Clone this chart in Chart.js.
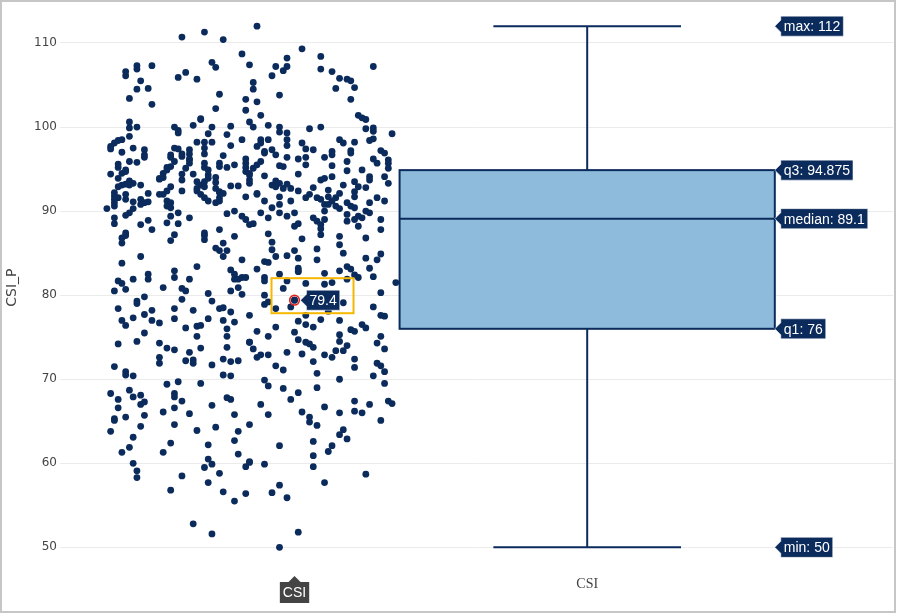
<!DOCTYPE html>
<html>
<head>
<meta charset="utf-8">
<script src="https://cdn.jsdelivr.net/npm/chart.js@4.4.0/dist/chart.umd.min.js"></script>
<style>
  body { margin: 0; background: #fff; }
  canvas { display: block; }
</style>
</head>
<body>
<canvas id="box-chart-csi" width="897" height="613"></canvas>
<script>
// datos
const categoria = 'CSI';
const tituloEjeY = 'CSI_P';
const yTicks = [50, 60, 70, 80, 90, 100, 110];
const boxLabels = ['min', 'q1', 'median', 'q3', 'max'];
const boxValues = [50, 76, 89.1, 94.875, 112];
const hoverIndex = 0; // punto resaltado (79.4)

// posicion x = jitter (centro de la caja en 0, ancho de caja 1)
const puntosX = [
  -0.78,
  -1.08,-1.02,-0.97,-0.92,-1.00,-0.99,-0.90,-1.20,-1.20,-1.16,-1.23,-1.23,-1.07,-1.09,-1.04,-1.19,-1.20,-1.17,-0.98,-1.22,
  -1.16,-0.91,-0.99,-0.91,-1.03,-1.03,-1.22,-1.22,-1.20,-1.10,-1.09,-1.09,-1.05,-1.00,-0.95,-0.90,-1.01,-0.96,-1.22,-1.04,
  -1.02,-1.00,-0.92,-0.95,-1.26,-1.25,-1.24,-1.27,-1.27,-1.21,-1.18,-1.10,-1.09,-1.06,-1.02,
  -0.88,-0.76,-0.71,-0.80,-0.83,-0.81,-0.80,-0.84,-0.71,-0.68,-0.66,-0.64,-0.63,-0.57,-0.67,-0.62,-0.89,-0.89,-0.82,-0.63,
  -0.88,-0.87,-0.61,-0.60,-0.59,-0.89,-0.85,-0.82,-0.82,-0.80,-0.80,-0.80,-0.74,-0.71,-0.59,-0.57,-0.57,-0.52,-0.87,-0.87,
  -0.88,-0.85,-0.76,-0.66,-0.65,-0.62,-0.58,-0.57,-0.75,-0.73,-0.68,-0.63,-0.55,-0.84,-0.86,
  -1.24,-1.18,-1.18,-1.11,-1.11,-1.08,-1.08,-1.06,-1.06,-1.02,-0.97,-0.91,-1.22,-1.20,-1.25,-1.25,-1.06,-1.06,-1.10,-1.11,
  -1.12,-1.02,-1.02,-1.01,-0.98,-0.98,-0.96,-0.94,-0.91,-0.91,-1.07,-1.12,-1.13,-1.23,-1.24,-1.23,-1.27,-1.08,-1.08,-1.05,
  -1.01,-1.01,-0.99,-0.91,-0.90,-1.14,-1.13,-1.14,-1.25,-1.22,-1.21,-1.22,-1.23,-1.24,-1.25,-1.04,-1.03,-1.04,-1.04,-1.02,
  -1.02,-0.99,-0.99,-0.98,-0.95,-0.93,-0.90,-1.19,-1.11,-1.12,-1.13,-1.08,-1.14,-1.17,-1.26,-1.26,-1.25,-1.26,-1.26,-1.23,
  -1.23,-1.21,-1.19,-1.18,-1.17,-1.19,-1.03,-1.02,-1.01,-0.99,-0.98,-0.97,-0.98,-0.98,-0.91,-1.12,-1.11,-1.12,-1.11,-1.28,
  -1.26,-1.22,-1.23,-1.21,-1.11,-1.09,-1.06,-0.96,-0.94,-0.92,-0.91,-1.26,-1.26,-1.17,-1.19,-1.16,-1.12,-1.09,-0.90,-1.23,
  -1.23,-1.24,-1.24,-1.10,-1.11,-1.02,-1.02,-1.02,-0.98,-0.94,-0.97,-0.99,-0.98,-0.96,-0.97,-1.19,-0.92,-1.04,-1.24,-1.10,
  -1.10,-1.17,-1.17,-1.21,-1.25,-1.24,-1.06,-0.95,-0.94,-0.94,-0.93,-0.92,-0.91,
  -0.86,-0.83,-0.80,-0.77,-0.75,-0.75,-0.70,-0.68,-0.63,-0.64,-0.57,-0.56,-0.54,-0.53,-0.53,-0.53,-0.87,-0.88,-0.89,-0.90,
  -0.82,-0.81,-0.77,-0.86,-0.68,-0.68,-0.70,-0.71,-0.64,-0.60,-0.58,-0.58,-0.54,-0.53,-0.83,-0.82,-0.80,-0.81,-0.79,-0.84,
  -0.83,-0.90,-0.73,-0.74,-0.75,-0.72,-0.71,-0.69,-0.69,-0.67,-0.66,-0.65,-0.62,-0.61,-0.62,-0.62,-0.59,-0.56,-0.58,-0.88,
  -0.88,-0.86,-0.82,-0.82,-0.79,-0.77,-0.54,-0.68,-0.67,-0.66,-0.64,-0.63,-0.62,-0.59,-0.58,-0.70,-0.70,-0.69,-0.84,-0.82,
  -0.78,-0.80,-0.87,-0.85,-0.73,-0.72,-0.71,-0.70,-0.64,-0.64,-0.62,-0.61,-0.60,-0.89,-0.78,-0.77,-0.71,-0.71,-0.61,-0.55,
  -0.55,-0.85,-0.76,-0.66,-0.66,-0.59,-0.84,-0.84,-0.78,-0.80,-0.77,-0.72,-0.72,-0.65,-0.55,-0.56,-0.59,-0.86,-0.85,-0.83,
  -0.77,-0.77,-0.77,-0.88,-0.82,-0.70,-0.66,-0.64,-0.63,-0.62,-0.58,-0.57,-0.61,-0.86,-0.86,-0.80,-0.75,-0.70,-0.68,-0.64,
  -0.51,
  -1.26,-1.23,-1.13,-1.08,-1.07,-1.01,-0.95,-0.93,-0.92,-1.20,-1.20,-1.18,-1.08,-1.00,-1.25,-1.16,-1.18,-1.21,-1.24,-1.23,
  -1.10,-1.10,-1.05,-0.98,-0.97,-0.95,-1.16,-1.14,-1.01,-1.04,-1.03,-1.07,-0.97,-0.94,-0.96,-0.90,-1.18,-1.04,-0.96,-1.25,
  -1.20,-1.14,-1.12,-1.10,-1.03,-0.96,-0.90,-1.06,-1.14,-1.14,-1.07,-1.05,-1.05,-1.00,-0.97,-0.95,-0.93,-1.26,-1.23,-1.23,
  -1.21,-0.97,-0.95,-1.09,-1.12,-1.03,-1.27,-1.25,-1.22,-1.21,-1.19,-1.10,-1.10,-1.08,-1.18,-1.19,-1.25,-1.23,-1.26,-1.18,
  -1.13,-1.10,-1.06,-1.00,-0.96,-0.95,-0.94,
  -0.81,-0.86,-0.86,-0.85,-0.83,-0.79,-0.65,-0.55,-0.57,-0.55,-0.54,-0.71,-0.66,-0.77,-0.75,-0.73,-0.75,-0.69,-0.88,-0.83,
  -0.85,-0.78,-0.77,-0.75,-0.74,-0.73,-0.66,-0.66,-0.64,-0.65,-0.67,-0.68,-0.70,-0.63,-0.62,-0.60,-0.59,-0.55,-0.56,-0.54,
  -0.90,-0.89,-0.88,-0.87,-0.85,-0.80,-0.76,-0.73,-0.83,-0.81,-0.62,-0.62,-0.56,-0.55,-0.54,-0.57,-0.54,-0.72,-0.66,-0.86,
  -0.85,-0.81,-0.77,-0.79,-0.72,-0.62,-0.58,-0.53,-0.52,-0.87,-0.85,-0.76,-0.74,-0.70,-0.66,-0.62,-0.60,
  -1.26,-1.27,-1.19,-1.21,-1.22,-1.24,-1.21,-1.20,-1.20,-1.10,-1.11,-1.13,-1.04,-1.08,-1.11,-0.99,-0.93,-0.94,-0.93,-0.90,
  -1.01,-1.01,-1.00,-1.02,-0.98,-1.01,-0.97,-0.94,-0.91,-0.90,-0.91,-1.05,-1.00,
  -0.74,-0.72,-0.66,-0.65,-0.64,-0.68,-0.69,-0.55,-0.82,-0.73,-0.73,-0.73,-0.90,-0.86,-0.70,-0.59,-0.82,-0.84,-0.80,-0.77,
  -0.82
];
const puntosY = [
  79.4,
  110.7,111.3,110.4,108.7,107.7,107.1,107.4,107.3,106.9,107.3,106.6,106.1,106.5,105.9,105.7,105.5,104.5,104.6,103.9,103.4,
  102.7,103.3,102.2,102.0,101.0,100.9,100.6,99.9,100.0,100.0,99.6,99.3,100.2,100.0,100.1,100.6,99.2,99.1,98.9,98.2,
  98.2,98.2,98.5,97.8,98.1,98.4,98.5,97.7,97.4,97.5,97.3,97.5,97.4,97.3,97.5,
  112.0,109.3,108.4,108.2,107.2,106.7,107.2,106.1,106.9,106.6,105.8,105.7,105.5,107.2,104.6,104.7,105.3,104.5,103.8,103.3,
  103.0,101.4,101.4,101.1,100.9,100.0,100.2,100.0,99.4,99.3,98.5,97.8,99.8,100.0,99.8,99.9,99.5,99.2,98.5,98.1,
  97.7,98.5,98.1,98.5,98.1,98.2,98.4,98.6,97.4,97.3,97.1,97.2,97.2,97.3,97.1,
  97.0,96.7,96.4,96.4,96.7,96.8,96.5,96.8,96.1,96.8,96.6,96.2,95.9,95.8,95.6,95.2,96.2,95.7,95.9,95.3,
  95.2,95.7,95.2,94.9,95.7,95.3,95.2,95.5,95.7,95.2,95.1,94.9,94.5,94.9,94.5,94.7,94.4,94.4,93.7,94.4,
  94.3,93.9,94.0,94.7,94.3,93.9,94.0,93.8,93.9,93.6,93.3,93.1,93.2,93.1,92.9,93.5,93.1,92.7,92.4,93.5,
  92.9,93.4,92.7,92.3,93.0,93.0,93.7,93.1,92.9,92.4,92.0,92.4,92.0,92.1,92.2,91.8,91.6,91.4,91.0,92.0,
  91.4,91.1,91.4,91.0,91.1,90.8,92.0,91.6,91.2,91.0,92.2,92.1,91.6,91.2,91.7,91.2,91.0,90.6,90.4,90.3,
  90.6,89.8,89.5,90.3,89.4,89.8,89.2,89.7,90.0,89.4,89.0,89.2,88.5,88.9,88.4,87.8,88.6,88.5,88.4,87.4,
  87.1,86.8,86.2,87.2,86.5,87.4,87.1,86.6,87.8,87.0,86.2,85.6,85.3,85.3,84.6,84.6,84.2,83.4,83.8,82.9,
  82.1,82.5,81.9,81.9,81.7,81.4,81.9,83.0,82.5,81.9,81.9,82.1,82.1,
  96.9,96.7,96.4,96.2,96.4,95.5,96.4,96.7,96.9,95.9,96.2,95.7,96.9,96.1,95.7,95.1,95.9,95.5,95.1,94.5,
  95.4,95.3,94.4,94.2,95.4,94.1,93.9,93.7,94.8,94.9,94.1,93.7,94.1,93.3,93.6,93.3,93.2,92.7,92.7,93.1,
  92.9,93.3,92.8,92.0,91.6,91.6,91.4,92.5,91.7,91.6,92.1,93.1,93.5,92.9,92.3,91.7,92.8,91.6,91.0,92.0,
  92.1,91.2,91.7,90.8,91.2,92.4,91.2,91.2,90.6,90.3,91.0,90.6,90.4,90.0,89.8,90.8,90.0,90.8,90.4,89.8,
  89.8,89.4,89.8,89.2,89.2,88.8,88.4,89.0,89.6,88.8,89.0,89.4,89.2,88.5,88.2,88.5,87.2,87.9,88.2,89.0,
  87.8,87.3,86.7,87.0,86.0,86.8,86.3,85.4,85.3,84.7,84.4,85.5,84.2,85.0,84.9,84.2,84.4,84.0,83.9,84.6,
  83.2,82.9,82.8,83.1,82.5,82.6,82.9,83.4,83.1,82.4,83.2,82.2,82.1,82.1,81.7,81.7,81.4,81.3,81.5,81.9,
  81.5,
  80.5,80.7,80.9,80.8,80.5,80.2,80.5,80.9,80.1,79.3,79.0,79.8,79.5,79.3,78.4,78.2,77.7,77.3,77.0,76.4,
  78.4,77.2,78.2,78.4,78.5,78.0,77.0,76.7,77.2,76.3,76.4,76.1,77.0,76.8,76.0,77.6,75.5,75.1,75.1,74.2,
  74.5,74.3,73.7,73.5,73.7,73.8,74.4,73.2,72.6,71.9,72.2,72.3,71.9,71.7,72.4,72.1,72.2,71.5,70.9,70.5,
  70.4,70.5,70.4,69.7,69.4,69.5,68.3,67.6,68.7,67.9,68.1,68.3,67.9,67.4,67.3,67.0,66.6,65.5,65.3,65.7,
  66.1,66.6,65.9,66.9,67.8,67.6,65.8,
  80.8,80.0,78.9,79.2,78.4,78.6,79.1,80.3,78.6,77.6,77.5,77.1,77.0,76.9,76.5,76.2,77.6,78.1,75.7,76.2,
  75.1,75.6,74.7,74.4,74.2,73.8,75.3,74.5,74.0,73.4,73.4,72.6,72.9,75.9,75.7,76.5,76.1,75.1,74.3,73.6,
  74.4,73.6,72.6,72.9,72.9,73.2,73.0,72.1,71.6,71.1,72.4,71.4,71.9,71.6,70.9,70.4,69.5,70.7,70.0,69.9,
  69.2,68.9,68.4,67.6,69.0,67.4,67.0,67.4,67.1,67.0,65.8,66.1,65.5,66.7,66.0,66.2,66.0,
  65.1,63.8,64.4,63.1,61.9,61.3,60.0,59.1,58.3,64.6,62.4,61.3,63.9,58.5,56.8,64.3,63.8,62.7,61.1,64.6,
  62.2,60.5,59.9,59.5,58.8,57.7,56.6,55.5,56.4,60.1,59.6,52.8,51.6,
  64.9,64.5,63.4,64.0,62.9,62.1,61.4,65.1,62.1,62.6,60.9,59.6,60.2,59.9,57.7,58.7,57.4,56.5,55.9,51.8,
  50.0
];

const colorPunto = '#0b2b5c';
const colorCaja = '#8ebbdb';

const bordePlugin = {
  id: 'borde',
  beforeDraw(chart) {
    const ctx = chart.ctx;
    ctx.save();
    ctx.fillStyle = '#fff';
    ctx.fillRect(0, 0, chart.width, chart.height);
    ctx.restore();
  },
  afterDraw(chart) {
    const ctx = chart.ctx;
    ctx.save();
    ctx.strokeStyle = '#c6c6c6';
    ctx.lineWidth = 2;
    ctx.strokeRect(1, 1, chart.width - 3, chart.height - 2);
    ctx.restore();
  }
};

// caja y bigotes dibujados con las escalas del grafico
const cajaPlugin = {
  id: 'caja',
  beforeDatasetsDraw(chart) {
    const ctx = chart.ctx;
    const sx = chart.scales.x, sy = chart.scales.y;
    const vMin = boxValues[0], vQ1 = boxValues[1], vMed = boxValues[2], vQ3 = boxValues[3], vMax = boxValues[4];
    const xl = sx.getPixelForValue(-0.5), xr = sx.getPixelForValue(0.5), xc = sx.getPixelForValue(0);
    const cl = sx.getPixelForValue(-0.25), cr = sx.getPixelForValue(0.25);
    ctx.save();
    ctx.fillStyle = colorCaja;
    ctx.fillRect(xl, sy.getPixelForValue(vQ3), xr - xl, sy.getPixelForValue(vQ1) - sy.getPixelForValue(vQ3));
    ctx.strokeStyle = colorPunto;
    ctx.lineWidth = 2;
    ctx.strokeRect(xl, sy.getPixelForValue(vQ3), xr - xl, sy.getPixelForValue(vQ1) - sy.getPixelForValue(vQ3));
    ctx.beginPath();
    ctx.moveTo(xl, sy.getPixelForValue(vMed)); ctx.lineTo(xr, sy.getPixelForValue(vMed));
    ctx.moveTo(xc, sy.getPixelForValue(vQ3)); ctx.lineTo(xc, sy.getPixelForValue(vMax));
    ctx.moveTo(xc, sy.getPixelForValue(vQ1)); ctx.lineTo(xc, sy.getPixelForValue(vMin));
    ctx.moveTo(cl, sy.getPixelForValue(vMax)); ctx.lineTo(cr, sy.getPixelForValue(vMax));
    ctx.moveTo(cl, sy.getPixelForValue(vMin)); ctx.lineTo(cr, sy.getPixelForValue(vMin));
    ctx.stroke();
    ctx.restore();
  }
};

function etiqueta(ctx, xTip, yc, texto, fondo) {
  const flecha = 6, pad = 3, h = 20;
  ctx.font = '14px "Liberation Sans", Arial, sans-serif';
  const w = ctx.measureText(texto).width + pad * 2;
  const x0 = xTip + flecha;
  ctx.fillStyle = fondo;
  ctx.beginPath();
  ctx.moveTo(xTip, yc);
  ctx.lineTo(x0, yc - flecha);
  ctx.lineTo(x0, yc - h / 2);
  ctx.lineTo(x0 + w, yc - h / 2);
  ctx.lineTo(x0 + w, yc + h / 2);
  ctx.lineTo(x0, yc + h / 2);
  ctx.lineTo(x0, yc + flecha);
  ctx.closePath();
  ctx.fill();
  ctx.strokeStyle = 'rgba(255,255,255,0.5)';
  ctx.lineWidth = 1;
  ctx.stroke();
  ctx.fillStyle = '#fff';
  ctx.textBaseline = 'middle';
  ctx.textAlign = 'left';
  ctx.fillText(texto, x0 + pad, yc + 1);
}

const etiquetasPlugin = {
  id: 'etiquetas',
  afterDraw(chart) {
    const ctx = chart.ctx;
    const sx = chart.scales.x, sy = chart.scales.y;
    const xr = sx.getPixelForValue(0.5);
    ctx.save();
    for (let i = 0; i < boxValues.length; i++) {
      etiqueta(ctx, xr, sy.getPixelForValue(boxValues[i]), boxLabels[i] + ': ' + boxValues[i], '#0b2b5c');
    }
    // punto resaltado
    const px = sx.getPixelForValue(puntosX[hoverIndex]);
    const py = sy.getPixelForValue(puntosY[hoverIndex]);
    ctx.strokeStyle = '#f5b700';
    ctx.lineWidth = 2;
    ctx.strokeRect(px - 23, py - 22, 82, 35);
    ctx.fillStyle = colorPunto;
    ctx.beginPath(); ctx.arc(px, py, 3.4, 0, Math.PI * 2); ctx.fill();
    ctx.strokeStyle = '#e0201c';
    ctx.lineWidth = 1.6;
    ctx.beginPath(); ctx.arc(px, py, 4.8, 0, Math.PI * 2); ctx.stroke();
    etiqueta(ctx, px + 6, py, String(puntosY[hoverIndex]), '#0b2b5c');
    // etiqueta del eje x
    const yb = chart.chartArea.bottom + 11;
    ctx.fillStyle = '#444';
    ctx.font = '14px "Liberation Sans", Arial, sans-serif';
    const w = ctx.measureText(categoria).width + 6;
    ctx.beginPath();
    ctx.moveTo(px, yb);
    ctx.lineTo(px + 6, yb + 6);
    ctx.lineTo(px + w / 2, yb + 6);
    ctx.lineTo(px + w / 2, yb + 27);
    ctx.lineTo(px - w / 2, yb + 27);
    ctx.lineTo(px - w / 2, yb + 6);
    ctx.lineTo(px - 6, yb + 6);
    ctx.closePath();
    ctx.fill();
    ctx.fillStyle = '#fff';
    ctx.textAlign = 'center';
    ctx.textBaseline = 'middle';
    ctx.fillText(categoria, px, yb + 17);
    ctx.restore();
  }
};

new Chart(document.getElementById('box-chart-csi'), {
  type: 'scatter',
  data: {
    datasets: [{
      label: categoria,
      data: puntosX.map((x, i) => ({ x: x, y: puntosY[i] })),
      backgroundColor: colorPunto,
      borderWidth: 0,
      pointRadius: 3.4,
      pointHoverRadius: 3.4
    }]
  },
  options: {
    responsive: false,
    animation: false,
    events: [],
    layout: { padding: { top: 8, right: 4, bottom: 8, left: 0 } },
    plugins: {
      legend: { display: false },
      tooltip: { enabled: false }
    },
    scales: {
      x: {
        type: 'linear',
        min: -1.405,
        max: 0.815,
        grid: { display: false },
        border: { display: false },
        afterBuildTicks: (s) => { s.ticks = [{ value: 0 }]; },
        afterFit: (s) => { s.height = 40; },
        ticks: {
          callback: () => categoria,
          padding: 3,
          maxRotation: 0,
          autoSkip: false,
          color: '#444',
          font: { family: '"Liberation Serif", serif', size: 14 }
        }
      },
      y: {
        min: 47.9,
        max: 113.9,
        afterBuildTicks: (s) => { s.ticks = yTicks.map(v => ({ value: v })); },
        afterFit: (s) => { s.width = 60; },
        grid: { color: '#ebebeb', drawTicks: false },
        border: { display: false },
        ticks: {
          padding: 3,
          color: '#444',
          font: { family: '"DejaVu Sans", sans-serif', size: 12 }
        },
        title: {
          display: true,
          text: tituloEjeY,
          color: '#444',
          font: { family: '"DejaVu Sans", sans-serif', size: 14 }
        }
      }
    }
  },
  plugins: [bordePlugin, cajaPlugin, etiquetasPlugin]
});
</script>
</body>
</html>
